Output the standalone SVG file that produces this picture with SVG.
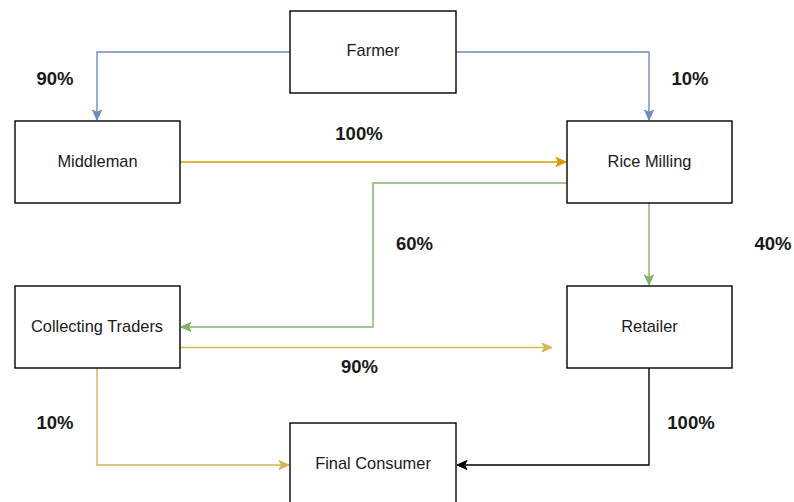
<svg xmlns="http://www.w3.org/2000/svg" width="794" height="502" viewBox="0 0 794 502">
<defs>
<style>
.node rect{fill:#ffffff;stroke:#000000;stroke-width:1.4}
.node text{font-family:"Liberation Sans",Arial,sans-serif;font-size:16.4px;fill:#1a1a1a;text-anchor:middle}
.lbl{font-family:"Liberation Sans",Arial,sans-serif;font-size:18.5px;font-weight:bold;fill:#1a1a1a;text-anchor:middle}
.edge{fill:none;stroke-width:1.4}
</style>
<marker id="aBlue" markerUnits="userSpaceOnUse" markerWidth="12" markerHeight="12" viewBox="0 0 12 12" refX="11" refY="6" orient="auto"><path d="M1,1.5 L11,6 L1,10.5 L3.5,6 Z" fill="#6c8ebf" stroke="#6c8ebf" stroke-width="1"/></marker>
<marker id="aOrange" markerUnits="userSpaceOnUse" markerWidth="12" markerHeight="12" viewBox="0 0 12 12" refX="11" refY="6" orient="auto"><path d="M1,1.5 L11,6 L1,10.5 L3.5,6 Z" fill="#d79b00" stroke="#d79b00" stroke-width="1"/></marker>
<marker id="aGreen" markerUnits="userSpaceOnUse" markerWidth="12" markerHeight="12" viewBox="0 0 12 12" refX="11" refY="6" orient="auto"><path d="M1,1.5 L11,6 L1,10.5 L3.5,6 Z" fill="#82b366" stroke="#82b366" stroke-width="1"/></marker>
<marker id="aYellow" markerUnits="userSpaceOnUse" markerWidth="12" markerHeight="12" viewBox="0 0 12 12" refX="11" refY="6" orient="auto"><path d="M1,1.5 L11,6 L1,10.5 L3.5,6 Z" fill="#d6b656" stroke="#d6b656" stroke-width="1"/></marker>
<marker id="aBlack" markerUnits="userSpaceOnUse" markerWidth="12" markerHeight="12" viewBox="0 0 12 12" refX="11" refY="6" orient="auto"><path d="M1,1.5 L11,6 L1,10.5 L3.5,6 Z" fill="#000000" stroke="#000000" stroke-width="1"/></marker>
</defs>
<rect width="794" height="502" fill="#ffffff"/>
<g id="connectors">
<path class="edge" d="M290,52 H97 V120" stroke="#6c8ebf" marker-end="url(#aBlue)"/>
<path class="edge" d="M456,52 H649 V120" stroke="#6c8ebf" marker-end="url(#aBlue)"/>
<path class="edge" d="M180,162 H566" stroke="#d79b00" marker-end="url(#aOrange)"/>
<path class="edge" d="M567,183 H373 V327 H181" stroke="#82b366" marker-end="url(#aGreen)"/>
<path class="edge" d="M649,203 V285" stroke="#82b366" marker-end="url(#aGreen)"/>
<path class="edge" d="M180,347.5 H552" stroke="#d6b656" marker-end="url(#aYellow)"/>
<path class="edge" d="M97,368 V465 H289" stroke="#d6b656" marker-end="url(#aYellow)"/>
<path class="edge" d="M649,368 V465 H457" stroke="#000000" marker-end="url(#aBlack)"/>
</g>
<g id="labels">
<text class="lbl" x="55" y="85">90%</text>
<text class="lbl" x="690" y="85">10%</text>
<text class="lbl" x="359" y="140">100%</text>
<text class="lbl" x="414.5" y="249.5">60%</text>
<text class="lbl" x="773" y="249.5">40%</text>
<text class="lbl" x="359.5" y="373">90%</text>
<text class="lbl" x="55" y="429">10%</text>
<text class="lbl" x="691" y="429">100%</text>
</g>
<g id="farmer" class="node"><rect x="290" y="11" width="166" height="82"/><text x="373" y="56">Farmer</text></g>
<g id="middleman" class="node"><rect x="15" y="121" width="165" height="82"/><text x="97.5" y="166.5">Middleman</text></g>
<g id="rice-milling" class="node"><rect x="567" y="121" width="165" height="82"/><text x="649.5" y="166.5">Rice Milling</text></g>
<g id="collecting-traders" class="node"><rect x="15" y="286" width="165" height="82"/><text x="97" y="331.5">Collecting Traders</text></g>
<g id="retailer" class="node"><rect x="567" y="286" width="165" height="82"/><text x="649.5" y="331.5">Retailer</text></g>
<g id="final-consumer" class="node"><rect x="290" y="423" width="166" height="82"/><text x="373" y="469">Final Consumer</text></g>
</svg>
